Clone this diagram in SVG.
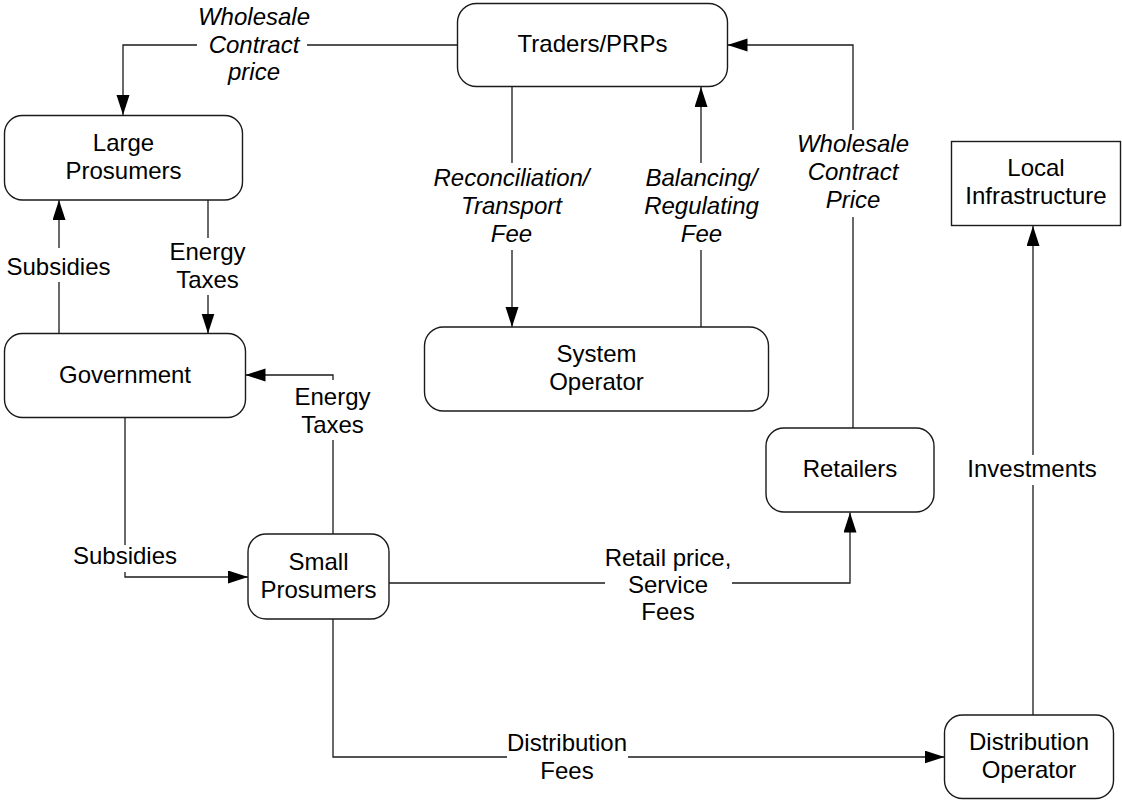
<svg xmlns="http://www.w3.org/2000/svg" width="1122" height="800" viewBox="0 0 1122 800">
  <defs>
    <marker id="arr" markerUnits="userSpaceOnUse" markerWidth="21" markerHeight="14" refX="20" refY="6.5" orient="auto">
      <path d="M0,0 L20,6.5 L0,13 Z" fill="#000"/>
    </marker>
    <style>
      .node { fill: #fff; stroke: #1a1a1a; stroke-width: 1.4; }
      .conn { fill: none; stroke: #1a1a1a; stroke-width: 1.3; }
      text { font-family: "Liberation Sans", Arial, sans-serif; font-size: 24px; fill: #000; text-anchor: middle; }
      .it { font-style: italic; }
    </style>
  </defs>
  <rect width="1122" height="800" fill="#fff"/>

  <g id="connectors">
    <path class="conn" d="M458,45 H307"/>
    <path class="conn" d="M197,45 H123 V115" marker-end="url(#arr)"/>
    <path class="conn" d="M59,333.5 V282"/>
    <path class="conn" d="M59,248 V200" marker-end="url(#arr)"/>
    <path class="conn" d="M208,200 V238"/>
    <path class="conn" d="M208,295 V333.5" marker-end="url(#arr)"/>
    <path class="conn" d="M512,87 V163"/>
    <path class="conn" d="M512,250 V327" marker-end="url(#arr)"/>
    <path class="conn" d="M701,327 V250"/>
    <path class="conn" d="M701,163 V87" marker-end="url(#arr)"/>
    <path class="conn" d="M853,428 V217"/>
    <path class="conn" d="M853,130 V45 H727.5" marker-end="url(#arr)"/>
    <path class="conn" d="M333,534 V440"/>
    <path class="conn" d="M333,380 V375 H245.5" marker-end="url(#arr)"/>
    <path class="conn" d="M125,418 V545"/>
    <path class="conn" d="M125,572 V577 H248" marker-end="url(#arr)"/>
    <path class="conn" d="M389,583 H605"/>
    <path class="conn" d="M732,583 H850 V512.5" marker-end="url(#arr)"/>
    <path class="conn" d="M333,619 V757 H507"/>
    <path class="conn" d="M628,757 H944.5" marker-end="url(#arr)"/>
    <path class="conn" d="M1033,715 V485"/>
    <path class="conn" d="M1033,455 V226" marker-end="url(#arr)"/>

    <text class="it" x="254" y="25">Wholesale</text>
    <text class="it" x="254" y="52.5">Contract</text>
    <text class="it" x="254" y="80">price</text>
    <text x="58.5" y="275">Subsidies</text>
    <text x="207.5" y="260">Energy</text>
    <text x="207.5" y="287.5">Taxes</text>
    <text class="it" x="511.5" y="186">Reconciliation/</text>
    <text class="it" x="511.5" y="214">Transport</text>
    <text class="it" x="511.5" y="242">Fee</text>
    <text class="it" x="701.5" y="186">Balancing/</text>
    <text class="it" x="701.5" y="214">Regulating</text>
    <text class="it" x="701.5" y="242">Fee</text>
    <text class="it" x="853" y="152">Wholesale</text>
    <text class="it" x="853" y="180">Contract</text>
    <text class="it" x="853" y="208">Price</text>
    <text x="332.5" y="405">Energy</text>
    <text x="332.5" y="433">Taxes</text>
    <text x="125" y="564">Subsidies</text>
    <text x="668" y="566">Retail price,</text>
    <text x="668" y="593">Service</text>
    <text x="668" y="620">Fees</text>
    <text x="567" y="751">Distribution</text>
    <text x="567" y="779">Fees</text>
    <text x="1032" y="477">Investments</text>
  </g>

  <g id="traders">
    <rect class="node" x="457.5" y="3.5" width="270" height="83" rx="19"/>
    <text x="592.5" y="52">Traders/PRPs</text>
  </g>
  <g id="large-prosumers">
    <rect class="node" x="4.5" y="115.5" width="238" height="84.5" rx="18"/>
    <text x="123.5" y="150.5">Large</text>
    <text x="123.5" y="178.5">Prosumers</text>
  </g>
  <g id="government">
    <rect class="node" x="4.5" y="333.5" width="241" height="84" rx="18"/>
    <text x="125" y="382.5">Government</text>
  </g>
  <g id="system-operator">
    <rect class="node" x="424.5" y="327" width="344" height="84" rx="19"/>
    <text x="596.5" y="362">System</text>
    <text x="596.5" y="390">Operator</text>
  </g>
  <g id="retailers">
    <rect class="node" x="766" y="428" width="168" height="84" rx="18"/>
    <text x="850" y="477">Retailers</text>
  </g>
  <g id="local-infrastructure">
    <rect class="node" x="951.5" y="141.5" width="169" height="84"/>
    <text x="1036" y="175.5">Local</text>
    <text x="1036" y="204">Infrastructure</text>
  </g>
  <g id="small-prosumers">
    <rect class="node" x="248" y="534" width="141" height="85" rx="18"/>
    <text x="318.5" y="570">Small</text>
    <text x="318.5" y="598">Prosumers</text>
  </g>
  <g id="distribution-operator">
    <rect class="node" x="944.5" y="715" width="169" height="83.5" rx="18"/>
    <text x="1029" y="750">Distribution</text>
    <text x="1029" y="778">Operator</text>
  </g>
</svg>
